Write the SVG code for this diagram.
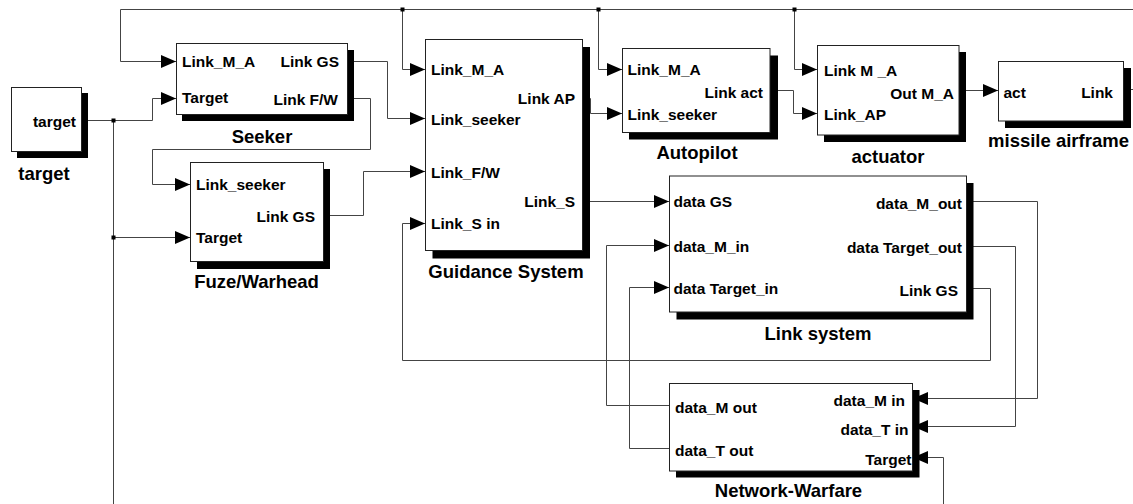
<svg xmlns="http://www.w3.org/2000/svg" width="1133" height="504" viewBox="0 0 1133 504">
<style>
.sh{fill:#000}
.b{fill:#fff;stroke:#222;stroke-width:1}
.p{font-family:"Liberation Sans",Arial,sans-serif;font-weight:bold;font-size:15.5px;fill:#000}
.r{text-anchor:end}
.t{font-family:"Liberation Sans",Arial,sans-serif;font-weight:bold;font-size:18.5px;fill:#000;text-anchor:middle}
.c{fill:none;stroke:#444;stroke-width:1}
.ca{fill:none;stroke:#444;stroke-width:1;marker-end:url(#a)}
.j{fill:#000}
</style>
<defs>
<marker id="a" markerWidth="15" markerHeight="13" refX="15" refY="6.5" orient="auto" markerUnits="userSpaceOnUse"><path d="M0,0 L15,6.5 L0,13 z" fill="#000"/></marker>
</defs>
<rect width="1133" height="504" fill="#fff"/>
<g id="connectors">
<path class="ca" d="M1133,9.5 H120.5 V61.5 H176"/>
<path class="ca" d="M402.5,9.5 V69.5 H425"/>
<path class="ca" d="M598.5,9.5 V69.5 H622"/>
<path class="ca" d="M794.5,9.5 V69.5 H817"/>
<path class="ca" d="M82,120.5 H152.5 V98.5 H176"/>
<path class="c" d="M113.5,120.5 V504"/>
<path class="ca" d="M113.5,237.5 H190"/>
<path class="ca" d="M348,61.5 H387.5 V118.5 H425"/>
<path class="ca" d="M348,98.5 H370.5 V149.5 H152.5 V184.5 H190"/>
<path class="ca" d="M323,215.5 H363.5 V171.5 H425"/>
<path class="ca" d="M583,98.5 H590.5 V113.5 H622"/>
<path class="ca" d="M583,201.5 H669"/>
<path class="ca" d="M770,90.5 H793.5 V113.5 H817"/>
<path class="ca" d="M959,90.5 H998"/>
<path class="c" d="M1124,89.5 H1133"/>
<path class="ca" d="M967,288.5 H990.5 V360.5 H402.5 V223.5 H425"/>
<path class="ca" d="M967,201.5 H1037.5 V398.5 H913"/>
<path class="ca" d="M967,246.5 H1015.5 V426.5 H913"/>
<path class="ca" d="M943.5,504 V457.5 H913"/>
<path class="ca" d="M670,405.5 H606.5 V245.5 H669"/>
<path class="ca" d="M670,448.5 H629.5 V287.5 H669"/>
<rect class="j" x="111.5" y="118.5" width="4" height="4"/>
<rect class="j" x="111.5" y="235.5" width="4" height="4"/>
<rect class="j" x="400.5" y="7.5" width="4" height="4"/>
<rect class="j" x="596.5" y="7.5" width="4" height="4"/>
<rect class="j" x="792.5" y="7.5" width="4" height="4"/>
</g>
<g id="target">
<rect class="sh" x="17" y="93" width="71" height="65"/>
<rect class="b" x="11.5" y="87.5" width="70" height="64"/>
<text class="p r" x="76" y="127">target</text>
<text class="t" x="44" y="180">target</text>
</g>
<g id="seeker">
<rect class="sh" x="182" y="50" width="172" height="71"/>
<rect class="b" x="176.5" y="43.5" width="171" height="71"/>
<text class="p" x="182" y="67">Link_M_A</text>
<text class="p" x="182" y="103">Target</text>
<text class="p r" x="339" y="67">Link GS</text>
<text class="p r" x="338" y="105">Link F/W</text>
<text class="t" x="262" y="143">Seeker</text>
</g>
<g id="fuze">
<rect class="sh" x="197" y="169" width="133" height="100"/>
<rect class="b" x="190.5" y="162.5" width="133" height="99"/>
<text class="p" x="196" y="190">Link_seeker</text>
<text class="p" x="196" y="243">Target</text>
<text class="p r" x="315" y="222">Link GS</text>
<text class="t" x="256.5" y="288">Fuze/Warhead</text>
</g>
<g id="guidance">
<rect class="sh" x="432.5" y="47" width="157.5" height="211.5"/>
<rect class="b" x="425.5" y="39.5" width="157" height="211"/>
<text class="p" x="431" y="75">Link_M_A</text>
<text class="p" x="431" y="125">Link_seeker</text>
<text class="p" x="431" y="178">Link_F/W</text>
<text class="p" x="431" y="229">Link_S in</text>
<text class="p r" x="575" y="104">Link AP</text>
<text class="p r" x="575" y="207">Link_S</text>
<text class="t" x="506" y="278">Guidance System</text>
</g>
<g id="autopilot">
<rect class="sh" x="629" y="55.5" width="149" height="84"/>
<rect class="b" x="622.5" y="48.5" width="147.5" height="84"/>
<text class="p" x="627.5" y="75">Link_M_A</text>
<text class="p" x="627.5" y="120">Link_seeker</text>
<text class="p r" x="763" y="98">Link act</text>
<text class="t" x="697" y="159">Autopilot</text>
</g>
<g id="actuator">
<rect class="sh" x="824" y="52" width="142" height="90"/>
<rect class="b" x="817.5" y="45.5" width="141.5" height="89.5"/>
<text class="p" x="824" y="76">Link M _A</text>
<text class="p" x="824" y="120">Link_AP</text>
<text class="p r" x="954" y="99">Out M_A</text>
<text class="t" x="888" y="163">actuator</text>
</g>
<g id="missile-airframe">
<rect class="sh" x="1005" y="68" width="126" height="60"/>
<rect class="b" x="998.5" y="61.5" width="125" height="59.5"/>
<text class="p" x="1003.5" y="98">act</text>
<text class="p r" x="1113" y="98">Link</text>
<text class="t" x="1058.5" y="147">missile airframe</text>
</g>
<g id="link-system">
<rect class="sh" x="676.5" y="183" width="297" height="136.5"/>
<rect class="b" x="669.5" y="176" width="297" height="136"/>
<text class="p" x="673.5" y="207">data GS</text>
<text class="p" x="673.5" y="252">data_M_in</text>
<text class="p" x="673.5" y="294">data Target_in</text>
<text class="p r" x="962" y="208.5">data_M_out</text>
<text class="p r" x="962" y="252.5">data Target_out</text>
<text class="p r" x="958" y="296">Link GS</text>
<text class="t" x="818" y="340">Link system</text>
</g>
<g id="network-warfare">
<rect class="sh" x="676" y="390" width="243.5" height="87.5"/>
<rect class="b" x="669.5" y="383.5" width="243" height="87.5"/>
<text class="p" x="675" y="412.5">data_M out</text>
<text class="p" x="675" y="456">data_T out</text>
<text class="p r" x="905" y="406">data_M in</text>
<text class="p r" x="908.5" y="435">data_T in</text>
<text class="p r" x="911.5" y="465">Target</text>
<text class="t" x="788.5" y="497">Network-Warfare</text>
</g>
</svg>
